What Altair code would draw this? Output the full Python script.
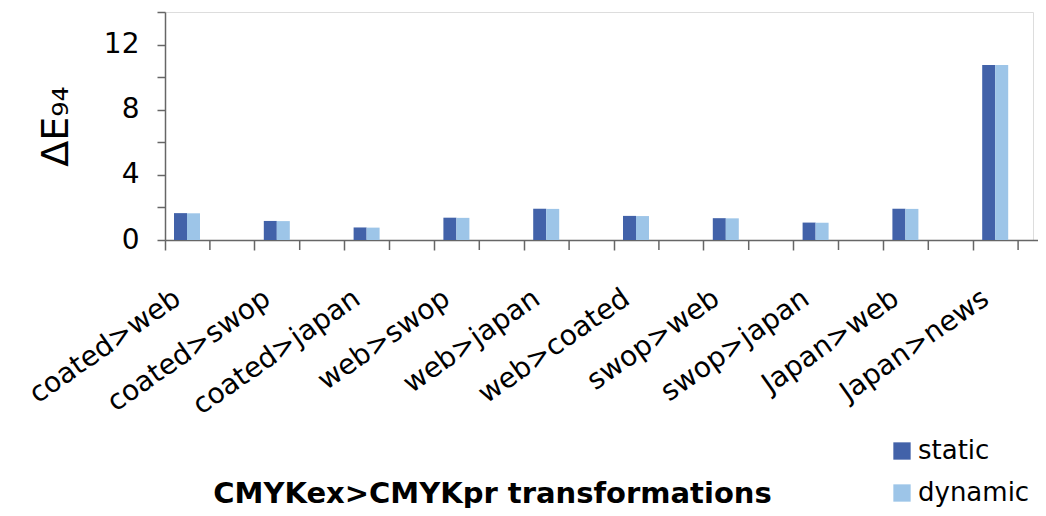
import altair as alt
import pandas as pd

categories = ["coated>web", "coated>swop", "coated>japan", "web>swop", "web>japan",
              "web>coated", "swop>web", "swop>japan", "Japan>web", "Japan>news"]
static_vals = [1.65, 1.17, 0.77, 1.37, 1.92, 1.48, 1.34, 1.07, 1.92, 10.75]
dynamic_vals = [1.64, 1.16, 0.76, 1.36, 1.91, 1.47, 1.33, 1.06, 1.91, 10.75]
series = ["static", "dynamic"]
colors = ["#4262A9", "#9DC5E8"]
y_ticks = [0, 2, 4, 6, 8, 10, 12, 14]

rows = []
for c, s, d in zip(categories, static_vals, dynamic_vals):
    rows.append({"cat": c, "series": "static", "value": s})
    rows.append({"cat": c, "series": "dynamic", "value": d})
df = pd.DataFrame(rows)
cat_df = pd.DataFrame({"cat": categories})

FONT = "DejaVu Sans"
AXIS_GRAY = "#666666"

x_scale = alt.Scale(domain=categories, range=[0, 898], paddingInner=0, paddingOuter=0)

bars = alt.Chart(df).mark_bar().encode(
    x=alt.X("cat:N", sort=categories, scale=x_scale,
            axis=alt.Axis(title="CMYKex>CMYKpr transformations",
                          titleFont=FONT, titleFontSize=29, titleFontWeight="bold",
                          titleColor="black", titleX=327, titleY=262,
                          titleAlign="center", titleBaseline="alphabetic",
                          labelAngle=-35, labelAlign="right", labelBaseline="top",
                          labelFont=FONT, labelFontSize=28, labelColor="black",
                          labelPadding=34, labelOffset=-40, labelLimit=500,
                          tickSize=10, tickColor=AXIS_GRAY, tickWidth=1.5,
                          domainColor=AXIS_GRAY, domainWidth=1.5,
                          bandPosition=0)),
    xOffset=alt.XOffset("series:N", sort=series,
                        scale=alt.Scale(domain=series, range=[9, 35], paddingInner=0, paddingOuter=0)),
    y=alt.Y("value:Q", scale=alt.Scale(domain=[0, 14], nice=False),
            axis=alt.Axis(title="ΔE₉₄", values=y_ticks,
                          labelExpr="datum.value % 4 == 0 && datum.value < 14 ? datum.label : ''",
                          titleFont=FONT, titleFontSize=38, titleFontWeight="normal",
                          titleColor="black", titlePadding=28,
                          labelFont=FONT, labelFontSize=28, labelColor="black",
                          labelPadding=18, tickSize=8, tickColor=AXIS_GRAY,
                          domainColor=AXIS_GRAY, domainWidth=1.5, tickWidth=1.5,
                          grid=False)),
    color=alt.Color("series:N", sort=series,
                    scale=alt.Scale(domain=series, range=colors),
                    legend=alt.Legend(title=None, orient="none", legendX=724, legendY=426,
                                      symbolType="square", symbolSize=300,
                                      symbolStrokeWidth=0, labelFont=FONT,
                                      labelFontSize=26, labelColor="black",
                                      rowPadding=16, labelOffset=3)),
)

mid_ticks = alt.Chart(cat_df).mark_rule(color=AXIS_GRAY, strokeWidth=1.5).encode(
    x=alt.X("cat:N", sort=categories, scale=x_scale, bandPosition=0.5),
    y=alt.value(228), y2=alt.value(238),
)

chart = alt.layer(bars, mid_ticks).properties(
    width=868, height=228,
    autosize=alt.AutoSizeParams(type="none"),
    padding={"left": 157, "top": 4, "right": 5, "bottom": 268},
).configure_view(stroke="transparent", strokeWidth=0).configure(background="white")

chart.save("out.html", embed_options={"renderer": "svg", "actions": False})
